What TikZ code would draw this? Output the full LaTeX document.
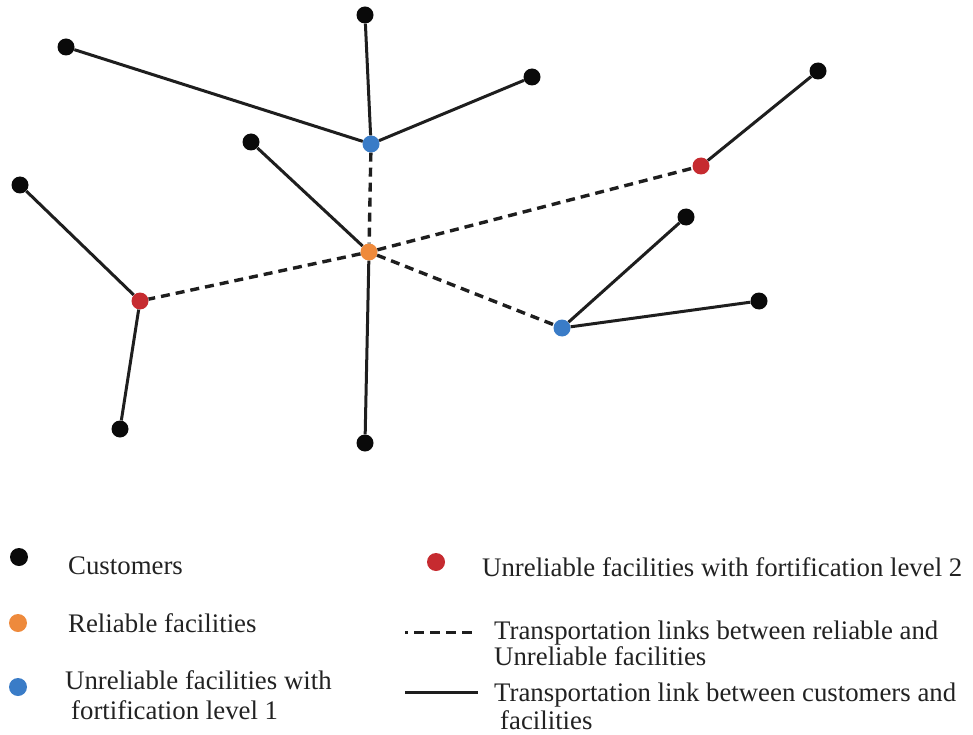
\documentclass[tikz,border=0pt]{standalone}
\usepackage{fontspec}
\setmainfont{Liberation Serif}
\definecolor{custc}{HTML}{0A0A0A}
\definecolor{bluec}{HTML}{3A7CC7}
\definecolor{orangec}{HTML}{EE8A3C}
\definecolor{redc}{HTML}{C62B30}
\definecolor{linec}{HTML}{1E1E1E}
\definecolor{textc}{HTML}{222222}
\tikzset{
  dotnode/.style={circle, inner sep=0pt, minimum size=17pt},
  cust/.style={dotnode, fill=custc},
  bluef/.style={dotnode, fill=bluec},
  orangef/.style={dotnode, fill=orangec},
  redf/.style={dotnode, fill=redc},
  custlink/.style={draw=linec, line width=3pt},
  facilink/.style={draw=linec, line width=3.4pt, dash pattern=on 9pt off 6pt},
  legtext/.style={anchor=base west, inner sep=0pt, text=textc, font=\fontsize{26.8}{30}\selectfont}
}
\begin{document}
\begin{tikzpicture}[x=1pt,y=-1pt]
\useasboundingbox (0,0) rectangle (973,735);
% facilities
\node[bluef] (b1) at (371,144) {};
\node[orangef] (o1) at (369,252) {};
\node[redf] (r1) at (140,301) {};
\node[redf] (r2) at (701,166) {};
\node[bluef] (b2) at (562,328) {};
% customers
\node[cust] (c1) at (66,47) {};
\node[cust] (c2) at (365,15) {};
\node[cust] (c3) at (532,77) {};
\node[cust] (c4) at (251,142) {};
\node[cust] (c5) at (365,443) {};
\node[cust] (c6) at (20,185) {};
\node[cust] (c7) at (120,429) {};
\node[cust] (c8) at (818,71) {};
\node[cust] (c9) at (686,217) {};
\node[cust] (c10) at (759,301) {};
% customer links
\draw[custlink] (c1) -- (b1);
\draw[custlink] (c2) -- (b1);
\draw[custlink] (c3) -- (b1);
\draw[custlink] (c4) -- (o1);
\draw[custlink] (c5) -- (o1);
\draw[custlink] (c6) -- (r1);
\draw[custlink] (c7) -- (r1);
\draw[custlink] (c8) -- (r2);
\draw[custlink] (c9) -- (b2);
\draw[custlink] (c10) -- (b2);
% facility links
\draw[facilink] (b1) -- (o1);
\draw[facilink] (o1) -- (r1);
\draw[facilink] (o1) -- (r2);
\draw[facilink] (o1) -- (b2);
% legend
\node[cust, minimum size=18pt] (lc) at (19,557) {};
\node[legtext] (tc) at (68,574) {Customers};
\node[orangef, minimum size=18pt] (lo) at (18,623) {};
\node[legtext] (to) at (68,632) {Reliable facilities};
\node[bluef, minimum size=18pt] (lb) at (18,687) {};
\node[legtext] (tb1) at (65,689) {Unreliable facilities with};
\node[legtext] (tb2) at (71,719) {fortification level 1};
\node[redf, minimum size=18pt] (lr) at (436,562) {};
\node[legtext] (tr) at (482,576) {Unreliable facilities with fortification level 2};
\coordinate (ld1) at (405,632);
\coordinate (ld2) at (478,632);
\draw[draw=linec, line width=3pt, dash pattern=on 3pt off 6pt on 10pt off 6pt on 10pt off 6pt on 10pt off 6pt on 10pt off 60pt] (ld1) -- (ld2);
\node[legtext] (td1) at (494,639) {Transportation links between reliable and};
\node[legtext] (td2) at (494,665) {Unreliable facilities};
\coordinate (ls1) at (405,692);
\coordinate (ls2) at (478,692);
\draw[draw=linec, line width=3pt] (ls1) -- (ls2);
\node[legtext] (ts1) at (494,701) {Transportation link between customers and};
\node[legtext] (ts2) at (500,729) {facilities};
\end{tikzpicture}
\end{document}
